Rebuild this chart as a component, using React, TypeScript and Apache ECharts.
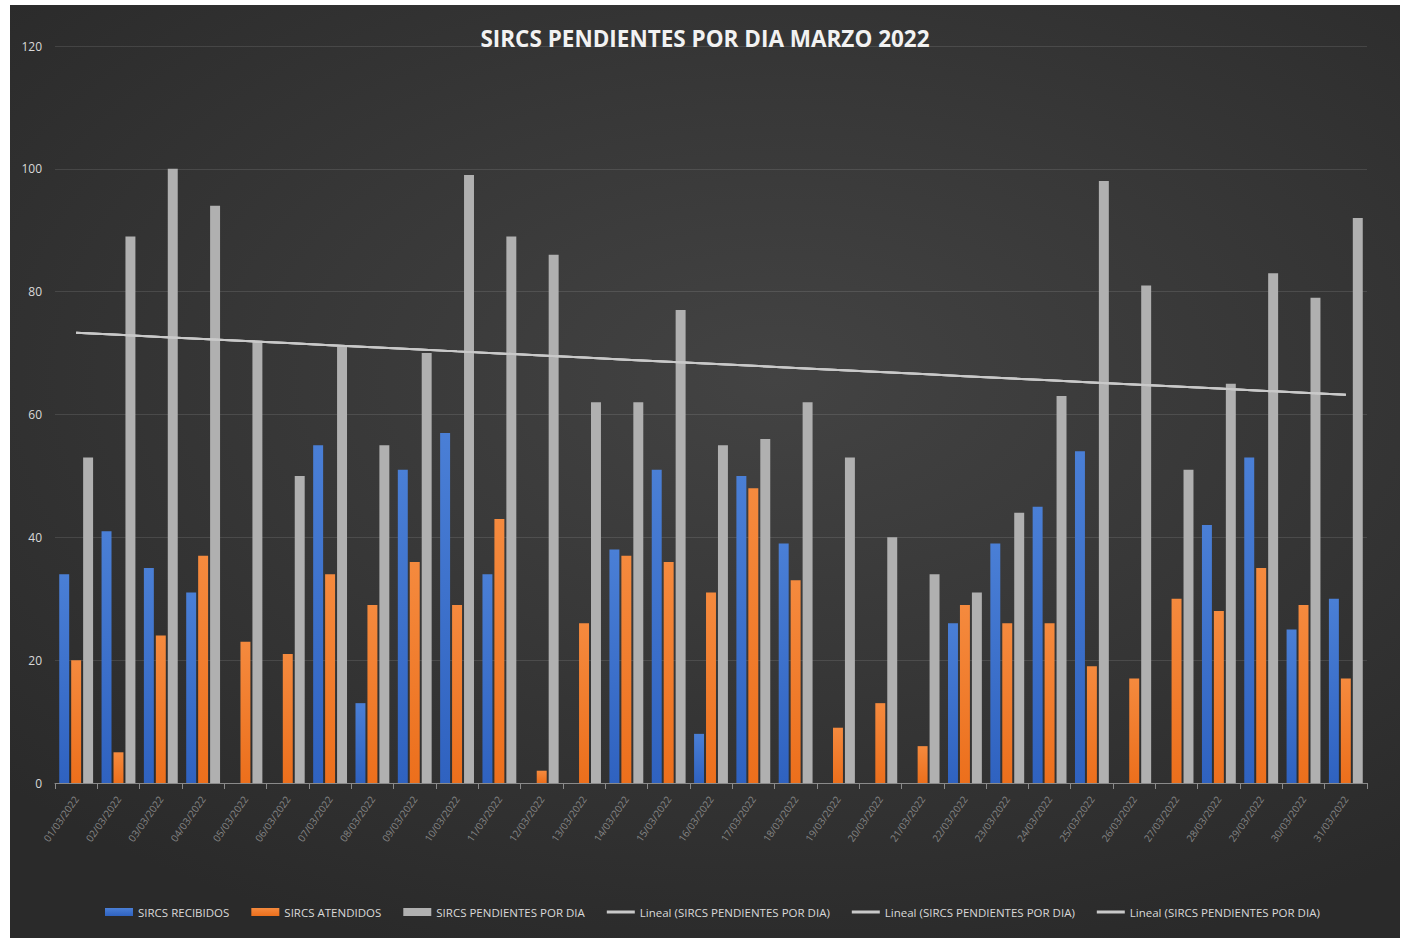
import React, { useEffect, useRef } from "react";
import * as echarts from "echarts";

const categories = [
  "01/03/2022", "02/03/2022", "03/03/2022", "04/03/2022", "05/03/2022", "06/03/2022",
  "07/03/2022", "08/03/2022", "09/03/2022", "10/03/2022", "11/03/2022", "12/03/2022",
  "13/03/2022", "14/03/2022", "15/03/2022", "16/03/2022", "17/03/2022", "18/03/2022",
  "19/03/2022", "20/03/2022", "21/03/2022", "22/03/2022", "23/03/2022", "24/03/2022",
  "25/03/2022", "26/03/2022", "27/03/2022", "28/03/2022", "29/03/2022", "30/03/2022",
  "31/03/2022",
];
const blueValues = [34, 41, 35, 31, 0, 0, 55, 13, 51, 57, 34, 0, 0, 38, 51, 8, 50, 39, 0, 0, 0, 26, 39, 45, 54, 0, 0, 42, 53, 25, 30];
const orangeValues = [20, 5, 24, 37, 23, 21, 34, 29, 36, 29, 43, 2, 26, 37, 36, 31, 48, 33, 9, 13, 6, 29, 26, 26, 19, 17, 30, 28, 35, 29, 17];
const grayValues = [53, 89, 100, 94, 72, 50, 71, 55, 70, 99, 89, 86, 62, 62, 77, 55, 56, 62, 53, 40, 34, 31, 44, 63, 98, 81, 51, 65, 83, 79, 92];
const yTicks = [0, 20, 40, 60, 80, 100, 120];

const seriesNames = ["SIRCS RECIBIDOS", "SIRCS ATENDIDOS", "SIRCS PENDIENTES POR DIA"];
const trendNames = [
  "Lineal (SIRCS PENDIENTES POR DIA)",
  "Lineal (SIRCS PENDIENTES POR DIA) ",
  "Lineal (SIRCS PENDIENTES POR DIA)  ",
];

function linearTrend(values: number[]): number[] {
  const n = values.length;
  let sx = 0, sy = 0, sxy = 0, sxx = 0;
  values.forEach((v, i) => {
    const x = i + 1;
    sx += x; sy += v; sxy += x * v; sxx += x * x;
  });
  const slope = (n * sxy - sx * sy) / (n * sxx - sx * sx);
  const intercept = (sy - slope * sx) / n;
  return values.map((_, i) => +(intercept + slope * (i + 1)).toFixed(3));
}

const FONT = "'Open Sans', sans-serif";
const LINE_ICON = "path://M0,0 L0.01,0 M0,2.5 L28,2.5 L28,5.5 L0,5.5 Z M27.99,8 L28,8";

export default function App() {
  const ref = useRef<HTMLDivElement>(null);
  useEffect(() => {
    if (!ref.current) return;
    const chart = echarts.init(ref.current, undefined, { renderer: "svg" });
    const trend = linearTrend(grayValues);
    const trendSeries = trendNames.map((name) => ({
      name,
      type: "line",
      data: trend,
      symbol: "none",
      lineStyle: { color: "#c9c9c9", width: 2 },
      itemStyle: { color: "#c9c9c9" },
      z: 5,
    }));
    chart.setOption({
      animation: false,
      backgroundColor: "transparent",
      title: {
        text: "SIRCS PENDIENTES POR DIA MARZO 2022",
        left: "center",
        top: 17,
        textStyle: {
          color: "#f2f2f2",
          fontSize: 22.5,
          fontWeight: "bold",
          fontFamily: FONT,
        },
      },
      grid: { left: 45, right: 33, top: 41, bottom: 155 },
      legend: {
        left: 90,
        top: 896,
        itemGap: 22,
        itemWidth: 28,
        itemHeight: 8,
        textStyle: { color: "#d9d9d9", fontSize: 11.5, fontFamily: FONT },
        data: [
          ...seriesNames.map((n) => ({ name: n, icon: "rect" })),
          ...trendNames.map((n) => ({ name: n, icon: LINE_ICON, itemStyle: { color: "#c9c9c9" } })),
        ],
        formatter: (name: string) => name.trim(),
      },
      xAxis: {
        type: "category",
        data: categories,
        axisLine: { lineStyle: { color: "#8a8a8a" } },
        axisTick: { show: true, lineStyle: { color: "#8a8a8a" }, length: 6 },
        axisLabel: {
          rotate: 55,
          color: "#858585",
          fontSize: 10,
          fontFamily: FONT,
          margin: 14,
          interval: 0,
        },
      },
      yAxis: {
        type: "value",
        min: 0,
        max: 120,
        interval: 20,
        axisLine: { show: false },
        axisTick: { show: false },
        axisLabel: {
          color: "#d9d9d9",
          fontSize: 12,
          fontFamily: FONT,
          margin: 13,
          customValues: yTicks,
        },
        splitLine: { lineStyle: { color: "rgba(255,255,255,0.11)" } },
      },
      series: [
        {
          name: seriesNames[0],
          type: "bar",
          data: blueValues,
          barGap: "20%",
          barCategoryGap: "20%",
          itemStyle: {
            color: new echarts.graphic.LinearGradient(0, 0, 0, 1, [
              { offset: 0, color: "#4a7fd6" },
              { offset: 1, color: "#2f62c0" },
            ]),
          },
        },
        {
          name: seriesNames[1],
          type: "bar",
          data: orangeValues,
          itemStyle: {
            color: new echarts.graphic.LinearGradient(0, 0, 0, 1, [
              { offset: 0, color: "#f58a3e" },
              { offset: 1, color: "#ec6f1c" },
            ]),
          },
        },
        {
          name: seriesNames[2],
          type: "bar",
          data: grayValues,
          itemStyle: { color: "#b0b0b0" },
        },
        ...trendSeries,
      ],
    });
    return () => chart.dispose();
  }, []);
  return (
    <div
      style={{
        position: "absolute",
        left: 0,
        top: 0,
        width: 1408,
        height: 938,
        background: "#ffffff",
      }}
    >
      <div
        style={{
          position: "absolute",
          left: 10,
          top: 5,
          width: 1390,
          height: 933,
          background:
            "radial-gradient(ellipse 75% 65% at 55% 40%, #434343 0%, #383838 45%, #2a2a2a 100%)",
        }}
      >
        <div ref={ref} style={{ width: 1390, height: 933 }} />
      </div>
    </div>
  );
}
